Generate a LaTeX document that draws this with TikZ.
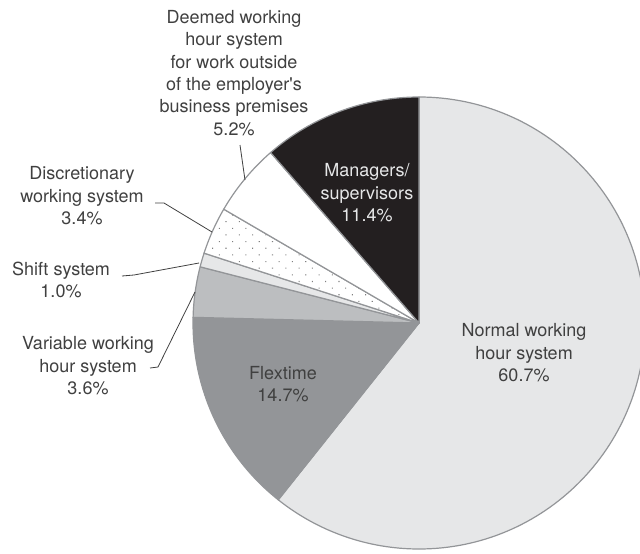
\documentclass[tikz,border=0pt]{standalone}
\usepackage{fontspec}
\setmainfont{TeX Gyre Heros}
\usetikzlibrary{patterns.meta}
\definecolor{pielight}{HTML}{E6E7E8}
\definecolor{piemid}{HTML}{BCBEC0}
\definecolor{piedark}{HTML}{939598}
\definecolor{pieblack}{HTML}{231F20}
\definecolor{labeltext}{HTML}{404040}
\tikzset{
  lbl/.style={align=center, text=labeltext, font=\fontsize{18}{22.4}\selectfont, inner sep=0pt},
  leader/.style={draw=labeltext, line width=0.8pt},
  slice/.style={draw=piedark, line width=1.2pt, line join=round}
}
\begin{document}
\begin{tikzpicture}[x=1pt,y=1pt]
  \useasboundingbox (0,0) rectangle (640,-554);
  \clip (0,0) rectangle (640,-554);
  \coordinate (c) at (419,-323);
  % slices, clockwise from the top
  \foreach \a/\b/\col in {90/-128.52/pielight, -128.52/-181.44/piedark,
      -181.44/-194.4/piemid, -194.4/-198/pielight, -198/-210.24/white,
      -210.24/-228.96/white, -228.96/-270/pieblack}
    \filldraw[slice, fill=\col] (c) -- ++(\a:226) arc[start angle=\a, end angle=\b, radius=226] -- cycle;
  \fill[pattern={Dots[radius=0.75pt,distance=9.4pt,angle=45]}, pattern color=gray]
    (c) -- ++(-198:222) arc[start angle=-198, end angle=-210.24, radius=222] -- cycle;
  % labels
  \node[lbl] (normal) at (524,-353) {Normal working\\hour system\\60.7\%};
  \node[lbl] (flex) at (283,-384) {Flextime\\14.7\%};
  \node[lbl, text=pielight] (mgr) at (367,-193) {Managers/\\supervisors\\11.4\%};
  \node[lbl] (deemed) at (234,-73) {Deemed working\\hour system\\for work outside\\of the employer\textquotesingle s\\business premises\\5.2\%};
  \node[lbl] (discr) at (82,-196) {Discretionary\\working system\\3.4\%};
  \node[lbl] (shift) at (61,-280) {Shift system\\1.0\%};
  \node[lbl] (var) at (88,-366) {Variable working\\hour system\\3.6\%};
  % leader lines
  \path
  (240,-145) coordinate (deemed-a)
  (245,-180) coordinate (deemed-b)
  (155,-203) coordinate (discr-a)
  (164,-203) coordinate (discr-b)
  (212,-232) coordinate (discr-c)
  (122,-276) coordinate (shift-a)
  (134,-275) coordinate (shift-b)
  (199,-263) coordinate (shift-c)
  (150,-368) coordinate (var-a)
  (158,-367) coordinate (var-b)
  (195,-292) coordinate (var-c)
  ;
  \draw[leader] (deemed-a)--(deemed-b);
  \draw[leader] (discr-a)--(discr-b)--(discr-c);
  \draw[leader] (shift-a)--(shift-b)--(shift-c);
  \draw[leader] (var-a)--(var-b)--(var-c);
\end{tikzpicture}
\end{document}
